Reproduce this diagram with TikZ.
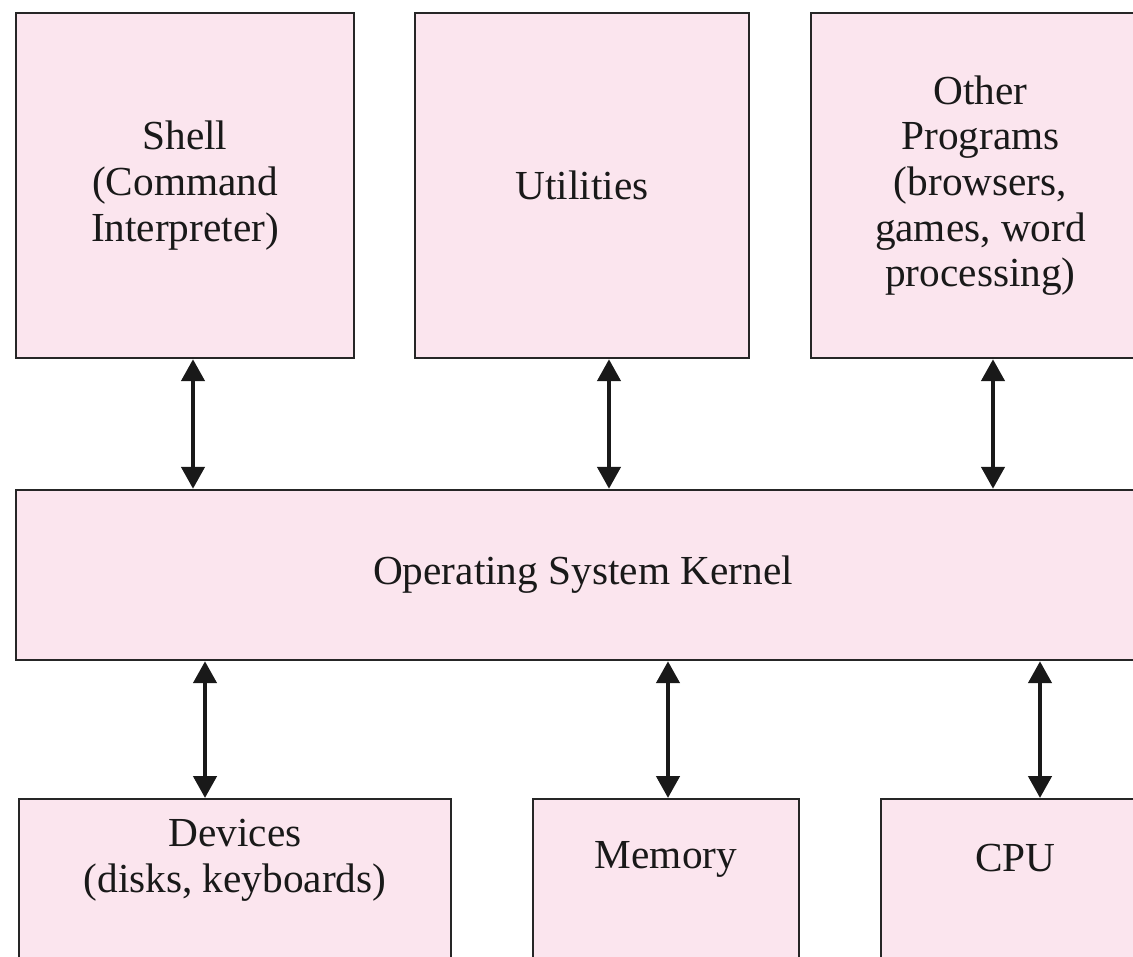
\documentclass[tikz,border=0pt]{standalone}
\usepackage{fontspec}
\setmainfont{Liberation Serif}
\usetikzlibrary{arrows.meta,positioning}

\begin{document}
\begin{tikzpicture}[x=0.02cm,y=-0.02cm,font=\fontsize{23.5}{26}\selectfont,
	box/.style={draw=black!85,line width=1.4pt,fill=boxpink,align=center,inner sep=0pt,text=black!90},
	lbl/.style={align=center,text=black!90},
	link/.style={{Triangle[length=0.44cm,width=0.46cm]}-{Triangle[length=0.44cm,width=0.46cm]},line width=2.6pt,draw=black!90}]
\definecolor{boxpink}{RGB}{251,229,238}

	\useasboundingbox (0,0) rectangle (1133,957);
	\clip (0,0) rectangle (1133,957);

	% top row
	\node[box,minimum width=6.76cm,minimum height=6.9cm] (shell) at (185,185.5) {Shell\\(Command\\Interpreter)};
	\node[box,minimum width=6.68cm,minimum height=6.9cm] (util) at (582,185.5) {Utilities};
	\node[box,minimum width=6.78cm,minimum height=6.9cm] (other) at (980.5,185.5) {Other\\Programs\\(browsers,\\games, word\\processing)};

	\node[box,minimum width=22.68cm,minimum height=3.4cm] (kern) at (583,575) {Operating System Kernel};

	% bottom row
	\node[box,minimum width=8.64cm,minimum height=3.6cm,anchor=north] (dev) at (235,798) {};
	\node[box,minimum width=5.32cm,minimum height=3.6cm,anchor=north] (mem) at (666,798) {};
	\node[box,minimum width=5.38cm,minimum height=3.6cm,anchor=north] (cpu) at (1015.5,798) {};
	\node[lbl] (devtxt) at ([yshift=-1.24cm]dev.north) {Devices\\(disks, keyboards)};
	\node[lbl] (memtxt) at ([yshift=-1.22cm]mem.north) {Memory};
	\node[lbl] (cputxt) at ([yshift=-1.2cm]cpu.north) {CPU};

	\draw[link] ([xshift=0.16cm]shell.south) -- ([xshift=0.16cm]shell.south |- kern.north);
	\draw[link] ([xshift=0.54cm]util.south) -- ([xshift=0.54cm]util.south |- kern.north);
	\draw[link] ([xshift=0.25cm]other.south) -- ([xshift=0.25cm]other.south |- kern.north);

	\draw[link] ([xshift=-0.6cm]dev.north |- kern.south) -- ([xshift=-0.6cm]dev.north);
	\draw[link] ([xshift=0.04cm]mem.north |- kern.south) -- ([xshift=0.04cm]mem.north);
	\draw[link] ([xshift=0.49cm]cpu.north |- kern.south) -- ([xshift=0.49cm]cpu.north);

\end{tikzpicture}
\end{document}
